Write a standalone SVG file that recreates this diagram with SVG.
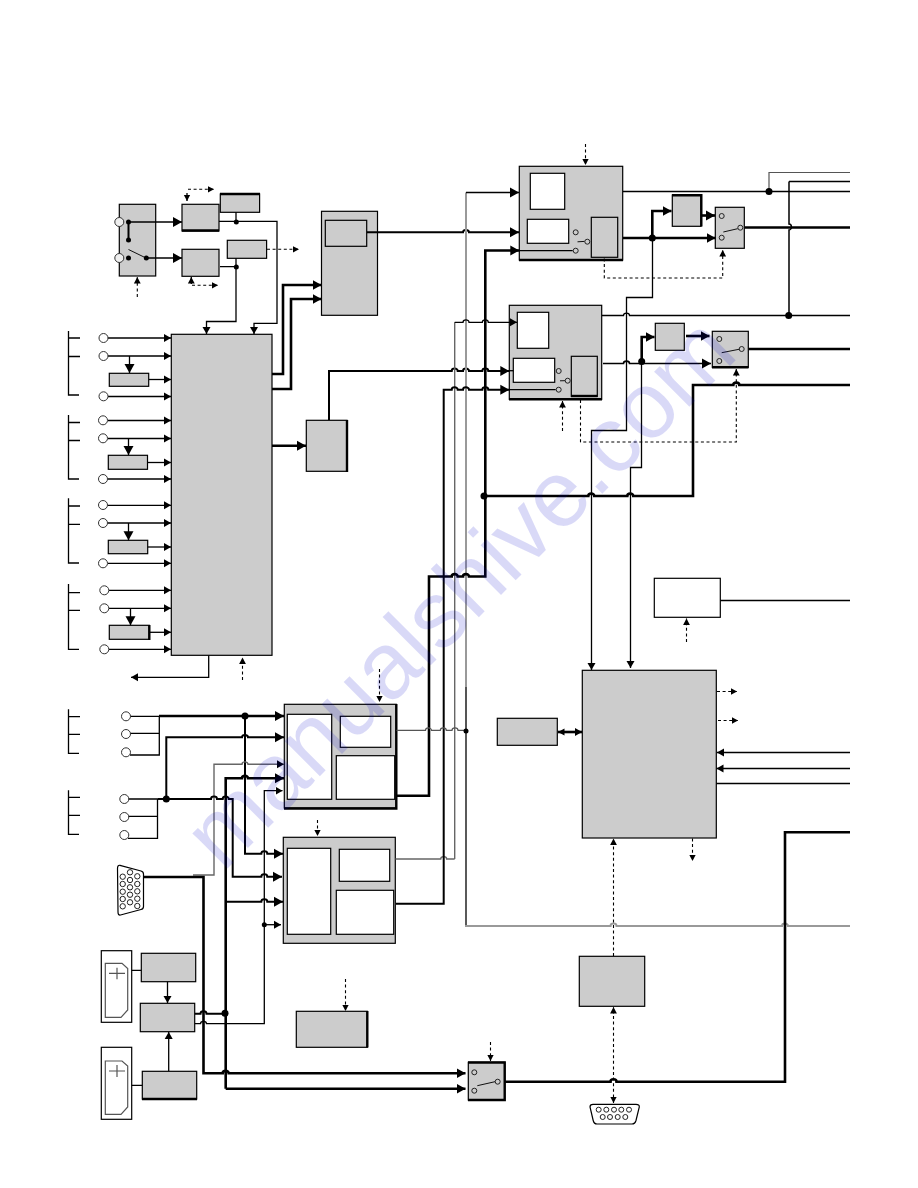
<svg xmlns="http://www.w3.org/2000/svg" width="918" height="1188" viewBox="0 0 918 1188">
<style>
.b{fill:#ccc;stroke:#000;stroke-width:1.2}
.w{fill:#fff;stroke:#000;stroke-width:1.2}
.e{fill:none;stroke:#000;stroke-width:2.4}
.i{fill:#fff;stroke:#333;stroke-width:1}
.ig{fill:#eee;stroke:#333;stroke-width:1}
.p{fill:none;stroke:#222;stroke-width:1}
.sw{fill:none;stroke:#111;stroke-width:1}
.t,.m,.k,.g,.gd,.d,.gl{fill:none;stroke-linejoin:miter}
.t{stroke:#000;stroke-width:1.3}
.m{stroke:#000;stroke-width:2}
.k{stroke:#000;stroke-width:2.6}
.g{stroke:#999;stroke-width:2}
.gd{stroke:#666;stroke-width:1.4}
.gl{stroke:#555;stroke-width:1.2}
.d{stroke:#000;stroke-width:1.1;stroke-dasharray:3 2.6}
.dot{fill:#000}
.wm{font-family:"Liberation Sans",Arial,sans-serif;font-size:94px;fill:#0000c8;fill-opacity:.15}
</style>
<defs>
<marker id="aL" markerUnits="userSpaceOnUse" markerWidth="11" markerHeight="11" viewBox="0 -5.5 11 11" refX="9" refY="0" orient="auto"><path d="M0-5L9 0L0 5Z"/></marker>
<marker id="aM" markerUnits="userSpaceOnUse" markerWidth="9" markerHeight="9" viewBox="0 -4.5 9 9" refX="7" refY="0" orient="auto"><path d="M0-4L7 0L0 4Z"/></marker>
<marker id="aS" markerUnits="userSpaceOnUse" markerWidth="8" markerHeight="8" viewBox="0 -4 8 8" refX="6.5" refY="0" orient="auto"><path d="M0-3.4L6.5 0L0 3.4Z"/></marker>
<marker id="aSs" markerUnits="userSpaceOnUse" markerWidth="8" markerHeight="8" viewBox="-8 -4 8 8" refX="-6.5" refY="0" orient="auto"><path d="M0-3.4L-6.5 0L0 3.4Z"/></marker>
</defs>
<rect width="918" height="1188" fill="#fff"/>

<g id="input-selector"><rect class="b" x="119.3" y="204.3" width="36.4" height="71.7"/></g>
<g id="decoder-a"><rect class="b" x="182" y="204.3" width="37" height="26.7"/><path class="e" d="M182 230.5H219"/></g>
<g id="decoder-b"><rect class="b" x="182" y="249.3" width="37" height="27"/></g>
<g id="memory-a"><rect class="b" x="220.3" y="194" width="39.3" height="18.3"/><path class="e" d="M220 194H260"/></g>
<g id="memory-b"><rect class="b" x="227.3" y="240.3" width="39.3" height="18"/></g>
<g id="main-processor"><rect class="b" x="171.3" y="334.3" width="100.7" height="321"/></g>
<g id="scaler"><rect class="b" x="321.5" y="211.3" width="56" height="104"/><rect class="b" x="325.3" y="220.3" width="41.4" height="26"/></g>
<g id="converter"><rect class="b" x="306.3" y="420.3" width="40.7" height="51"/><path class="e" d="M347 420V472"/></g>
<g id="input-bracket-1"><path class="t" d="M68.5 331V395H79M68.5 338H80M68.5 356.5H80"/></g>
<g id="input-bracket-2"><path class="t" d="M68.5 415V479H79M68.5 422.5H80M68.5 440.5H80"/></g>
<g id="input-bracket-3"><path class="t" d="M68.5 498.3V563H79M68.5 506H80M68.5 524.3H80"/></g>
<g id="input-bracket-4"><path class="t" d="M68.5 584V649.3H79M68.5 592.7H80M68.5 610.3H80"/></g>
<g id="input-bracket-5"><path class="t" d="M68.5 709.3V753.3H79M68.5 716.7H80M68.5 734.3H80"/></g>
<g id="input-bracket-6"><path class="t" d="M68.5 790.3V834.3H79M68.5 797.3H80M68.5 815.3H80"/></g>
<g id="sub-a"><rect class="b" x="109.3" y="373.3" width="39.4" height="13"/></g>
<g id="sub-b"><rect class="b" x="108.3" y="455.3" width="39.2" height="14"/></g>
<g id="sub-c"><rect class="b" x="108.3" y="540.3" width="39.4" height="13.4"/></g>
<g id="sub-d"><rect class="b" x="109.3" y="625.3" width="40" height="14"/><path class="e" d="M149.3 625V640"/></g>
<g id="decoder-top"><rect class="b" x="519.3" y="166.3" width="103.4" height="93.7"/><path class="e" d="M519 260H623"/><rect class="w" x="530.3" y="173.3" width="34.4" height="36"/><rect class="w" x="527.3" y="219.3" width="41.4" height="24"/><rect class="b" x="591.3" y="217.3" width="26.4" height="40"/></g>
<g id="decoder-mid"><rect class="b" x="509.3" y="305.3" width="92.4" height="94"/><path class="e" d="M509 399.3H602"/><rect class="w" x="517.3" y="312.3" width="31.4" height="36"/><rect class="w" x="513.3" y="358.3" width="41.4" height="24"/><rect class="b" x="571.3" y="356.3" width="26" height="40"/><path class="e" d="M571 396H597.5"/></g>
<g id="proc-top"><rect class="b" x="672.3" y="195" width="28.7" height="31.3"/><path class="e" d="M672 195.3H701.3V226.5"/></g>
<g id="proc-mid"><rect class="b" x="655.3" y="323.3" width="29" height="27"/></g>
<g id="switch-top"><rect class="b" x="715.3" y="207.3" width="29" height="41"/></g>
<g id="switch-mid"><rect class="b" x="712.3" y="331.3" width="36" height="36"/><path class="e" d="M712 367.3H748.5"/></g>
<g id="osd-box"><rect class="w" x="654.3" y="578.3" width="66" height="39"/></g>
<g id="controller"><rect class="b" x="582.3" y="670.3" width="134" height="167.7"/></g>
<g id="eeprom"><rect class="b" x="497.3" y="718.3" width="60" height="27"/></g>
<g id="rs232"><rect class="b" x="579.3" y="956.3" width="65.4" height="50"/></g>
<g id="adc-top"><rect class="b" x="284.3" y="704.3" width="112" height="103.7"/><path class="e" d="M396.3 704V808.5H284"/><rect class="w" x="287.3" y="714.3" width="44.4" height="85"/><rect class="w" x="340.3" y="716.3" width="50.4" height="31"/><rect class="w" x="336.3" y="755.7" width="58.4" height="43.6"/></g>
<g id="adc-bottom"><rect class="b" x="283.3" y="837.3" width="112" height="106"/><rect class="w" x="287.3" y="848.3" width="43.4" height="86"/><rect class="w" x="339.3" y="849.3" width="50.4" height="32"/><rect class="w" x="336.3" y="890.3" width="57.4" height="44"/></g>
<g id="vga-connector"><path class="w" d="M120 865.3L141 871Q143.5 871.7 143.5 874V906.5Q143.5 909 141 909.5L120.5 915Q118 915.5 118 912L117.5 868.5Q117.5 864.8 120 865.3Z"/>
<g class="p"><circle cx="122.7" cy="876.7" r="2.7"/><circle cx="122.7" cy="884" r="2.7"/><circle cx="122.7" cy="891.7" r="2.7"/><circle cx="122.7" cy="899" r="2.7"/><circle cx="122.7" cy="906.3" r="2.7"/><circle cx="130" cy="872.3" r="2.7"/><circle cx="130" cy="880" r="2.7"/><circle cx="130" cy="887.3" r="2.7"/><circle cx="130" cy="894.7" r="2.7"/><circle cx="130" cy="902.3" r="2.7"/><circle cx="137.3" cy="876.3" r="2.7"/><circle cx="137.3" cy="884" r="2.7"/><circle cx="137.3" cy="891.3" r="2.7"/><circle cx="137.3" cy="898.7" r="2.7"/><circle cx="137.3" cy="906" r="2.7"/></g></g>
<g id="card-slot-1"><rect class="w" x="101.3" y="950.7" width="30.4" height="71.6"/><path class="gl" d="M105.3 963.3H122L127.7 968.5V1010L121 1017.3H105.3Z"/><path class="gl" d="M109 973.3H125M117 967.7V979.3"/></g>
<g id="card-slot-2"><rect class="w" x="101.3" y="1047.3" width="30.4" height="72"/><path class="gl" d="M105.3 1061H122L127.7 1066V1107L121 1114.3H105.3Z"/><path class="gl" d="M109 1071H125M117 1065V1077"/></g>
<g id="card-reader-a"><rect class="b" x="141.3" y="953.3" width="54.4" height="28.4"/></g>
<g id="card-ctrl"><rect class="b" x="140.3" y="1003.3" width="54.4" height="28.4"/></g>
<g id="card-reader-b"><rect class="b" x="142.3" y="1071.3" width="54.4" height="27.7"/><path class="e" d="M142 1099H197"/></g>
<g id="power-box"><rect class="b" x="296.3" y="1011.3" width="71" height="36"/><path class="e" d="M367.3 1011V1047.5"/></g>
<g id="switch-bottom"><rect class="b" x="468.3" y="1062.3" width="36.4" height="37.7"/><path class="e" d="M468 1062.5H504.7V1100H468"/></g>
<g id="db9-connector"><path class="w" d="M593 1104.3H636Q639.5 1104.3 639.3 1107L636 1120.5Q635 1124 632 1124H597Q594 1124 593.2 1120.5L590 1107Q590 1104.3 593 1104.3Z"/>
<g class="p"><circle cx="598.7" cy="1109.7" r="2.5"/><circle cx="606.3" cy="1109.7" r="2.5"/><circle cx="614" cy="1109.7" r="2.5"/><circle cx="621.3" cy="1109.7" r="2.5"/><circle cx="629" cy="1109.7" r="2.5"/><circle cx="602.7" cy="1117" r="2.5"/><circle cx="610" cy="1117" r="2.5"/><circle cx="617.7" cy="1117" r="2.5"/><circle cx="625.3" cy="1117" r="2.5"/></g></g>

<g id="connectors">
<path class="t" d="M128.5 222H182" marker-end="url(#aL)"/>
<path class="t" d="M146 258H182" marker-end="url(#aL)"/>
<path class="m" d="M128.5 222V240"/>
<path class="sw" d="M128.5 249.5L146 258"/>
<path class="t" d="M219 221.3H277V323.3H254V334" marker-end="url(#aM)"/>
<path class="t" d="M220 266.7H236M236 258.3V321.5H206.5V334" marker-end="url(#aM)"/>
<path class="t" d="M236 212V222"/>
<path class="d" d="M188 189.3H214" marker-end="url(#aS)"/>
<path class="t" d="M187 193V201" marker-end="url(#aS)"/>
<path class="d" d="M192 285.3H218" marker-end="url(#aS)"/>
<path class="t" d="M191.3 284V277" marker-end="url(#aS)"/>
<path class="d" d="M267 249.3H299" marker-end="url(#aS)"/>
<path class="d" d="M137.3 297V277" marker-end="url(#aS)"/>
<path class="t" d="M108 338H171" marker-end="url(#aM)"/>
<path class="t" d="M108 356H171" marker-end="url(#aM)"/>
<path class="t" d="M129.5 356V373" marker-end="url(#aL)"/>
<path class="t" d="M149 379.5H171" marker-end="url(#aM)"/>
<path class="t" d="M108 396.5H171" marker-end="url(#aM)"/>
<path class="t" d="M108 420.5H171" marker-end="url(#aM)"/>
<path class="t" d="M108 438.5H171" marker-end="url(#aM)"/>
<path class="t" d="M128.5 438.5V455" marker-end="url(#aL)"/>
<path class="t" d="M147.5 462.5H171" marker-end="url(#aM)"/>
<path class="t" d="M108 479H171" marker-end="url(#aM)"/>
<path class="t" d="M108 505.3H171" marker-end="url(#aM)"/>
<path class="t" d="M108 523H171" marker-end="url(#aM)"/>
<path class="t" d="M128.5 523V540.3" marker-end="url(#aL)"/>
<path class="t" d="M147.7 547H171" marker-end="url(#aM)"/>
<path class="t" d="M108 563.3H171" marker-end="url(#aM)"/>
<path class="t" d="M109 590.3H171" marker-end="url(#aM)"/>
<path class="t" d="M109 608.3H171" marker-end="url(#aM)"/>
<path class="t" d="M130.5 608.3V625.3" marker-end="url(#aL)"/>
<path class="t" d="M149.5 632.3H171" marker-end="url(#aM)"/>
<path class="t" d="M109 649.3H171" marker-end="url(#aM)"/>
<path class="t" d="M208.7 655.5V677.3H131" marker-end="url(#aM)"/>
<path class="d" d="M242.5 680V657.5" marker-end="url(#aS)"/>
<path class="k" d="M272 374H283V285H321.5" marker-end="url(#aL)"/>
<path class="k" d="M272 389H291V299H321.5" marker-end="url(#aL)"/>
<path class="k" d="M272 445.7H306" marker-end="url(#aL)"/>
<path class="m" d="M367 232.3H463a3 2.4 0 0 1 6 0H519" marker-end="url(#aL)"/>
<path class="m" d="M329 420V371H451.7a3 2.4 0 0 1 6 0H463a3 2.4 0 0 1 6 0H482.3a3 2.4 0 0 1 6 0H509.3" marker-end="url(#aL)"/>
<path class="t" d="M509 370.7H513.5"/>
<path class="g" d="M466 687V192.5"/>
<path class="gl" d="M466 687V730" style="stroke-width:2"/>
<path class="t" d="M466 192.5H519" marker-end="url(#aL)"/>
<path class="t" d="M466 730V926"/>
<path class="g" d="M465 926H610.5a3 2.4 0 0 1 6 0H782a3 2.4 0 0 1 6 0H850"/>
<path class="gd" d="M454.7 859V322.3"/>
<path class="t" d="M454.7 322.3H463a3 2.4 0 0 1 6 0H482.3a3 2.4 0 0 1 6 0H517" marker-end="url(#aM)"/>
<path class="gd" d="M395.5 859H440.7a3 2.4 0 0 1 6 0H454.7"/>
<path class="k" d="M396 903.7H443.7V389.7H451.7a3 2.4 0 0 1 6 0H463a3 2.4 0 0 1 6 0H482.3a3 2.4 0 0 1 6 0H509.3" marker-end="url(#aL)" style="stroke-width:2"/>
<path class="t" d="M509 389.7H555.7"/>
<path class="k" d="M396.5 795.7H429V576.5H451.7a3 2.4 0 0 1 6 0H463a3 2.4 0 0 1 6 0H485.3V250.5H519.3" marker-end="url(#aL)"/>
<path class="t" d="M519 250.7H572.7"/>
<path class="gl" d="M396.5 730.3H425.5a3 2.4 0 0 1 6 0H440.3a3 2.4 0 0 1 6 0H452a3 2.4 0 0 1 6 0H466"/>
<path class="k" d="M484 496H588.3a3 2.4 0 0 1 6 0H627.3a3 2.4 0 0 1 6 0H693V385H733.3a3 2.4 0 0 1 6 0H850"/>
<path class="k" d="M623 238H715.5" marker-end="url(#aL)"/>
<path class="k" d="M652.3 238V211H671.5" marker-end="url(#aL)"/>
<path class="k" d="M701.5 215.5H715" marker-end="url(#aL)"/>
<path class="t" d="M652.5 238V297.5H626.5V430.5H591.5V670" marker-end="url(#aM)"/>
<path class="t" d="M641.5 361V467.5H630.5V668" marker-end="url(#aM)"/>
<path class="t" d="M623 191.5H850"/>
<path class="gl" d="M769 191.5V172.5H850"/>
<path class="t" d="M789 181.5V224a2.4 3 0 0 1 0 6V315" style="stroke-width:1.5"/>
<path class="t" d="M789 181.5H850"/>
<path class="k" d="M744.5 227.5H850"/>
<path class="t" d="M602 315.5H623.5a3 2.4 0 0 1 6 0H850"/>
<path class="m" d="M603 363.5H623.5a3 2.4 0 0 1 6 0H711" marker-end="url(#aL)" style="stroke-width:1.6"/>
<path class="k" d="M641.7 362V337H654.5" marker-end="url(#aL)"/>
<path class="k" d="M686 336H709.5" marker-end="url(#aL)"/>
<path class="k" d="M748.3 349H850"/>
<path class="d" d="M604.3 258.5V278H722.7V250" marker-end="url(#aS)"/>
<path class="d" d="M585.5 144V165" marker-end="url(#aS)"/>
<path class="d" d="M562.5 431V401" marker-end="url(#aS)"/>
<path class="d" d="M580.5 400V442H736.3V369" marker-end="url(#aS)"/>
<path class="sw" d="M577.5 241.8L584.5 241.4"/>
<path class="sw" d="M723.3 232L737.7 228.7"/>
<path class="sw" d="M560 380.8L565 380.7"/>
<path class="sw" d="M721.7 352.7L739 349.3"/>
<path class="t" d="M720.3 600.5H850"/>
<path class="d" d="M686.5 642V618.5" marker-end="url(#aS)"/>
<path class="k" d="M558 732H582" marker-end="url(#aM)" marker-start="url(#aSs)"/>
<path class="d" d="M717 691.5H737" marker-end="url(#aS)"/>
<path class="d" d="M718 720.5H738" marker-end="url(#aS)"/>
<path class="t" d="M850 752.5H717" marker-end="url(#aM)"/>
<path class="t" d="M850 768.5H716.5" marker-end="url(#aM)"/>
<path class="t" d="M716.3 783.5H850"/>
<path class="d" d="M613.5 956V838.5" marker-end="url(#aS)"/>
<path class="d" d="M692.5 838.5V861" marker-end="url(#aS)"/>
<path class="d" d="M613.5 1103V1007" marker-end="url(#aS)" marker-start="url(#aSs)"/>
<path class="k" d="M505 1081.7H610.5a3 2.4 0 0 1 6 0H785V832.3H850"/>
<path class="d" d="M490.5 1042V1061" marker-end="url(#aS)"/>
<path class="t" d="M130 716.3H159.3V755H130M130 733.3H159.3"/>
<path class="t" d="M128 799H157.5V838.3H128M128 816.3H157.5"/>
<path class="k" d="M159 716H284" marker-end="url(#aL)"/>
<path class="m" d="M245 716V853.7H261.3a3 2.4 0 0 1 6 0H283" marker-end="url(#aL)"/>
<path class="m" d="M166.3 799V737.3H242a3 2.4 0 0 1 6 0H284" marker-end="url(#aL)"/>
<path class="gd" d="M193 875H214V764.3H242a3 2.4 0 0 1 6 0H284" marker-end="url(#aM)"/>
<path class="k" d="M158 799H211a3 2.4 0 0 1 6 0H222.7a3 2.4 0 0 1 6 0H232.7V876.7H261.3a3 2.4 0 0 1 6 0H282" marker-end="url(#aL)" style="stroke-width:2"/>
<path class="k" d="M225.7 1088.7V778.3H242a3 2.4 0 0 1 6 0H284" marker-end="url(#aL)"/>
<path class="k" d="M225.7 1088.7H465.5" marker-end="url(#aL)"/>
<path class="m" d="M225.7 901.7H261.3a3 2.4 0 0 1 6 0H283" marker-end="url(#aL)"/>
<path class="k" d="M143 877H203.5V1073.3H222.7a3 2.4 0 0 1 6 0H465.5" marker-end="url(#aL)"/>
<path class="t" d="M195 1023.7H200.5a3 2.4 0 0 1 6 0H264.3V790.7H282.5" marker-end="url(#aM)"/>
<path class="t" d="M264.3 924.7H281" marker-end="url(#aM)"/>
<path class="m" d="M195 1013.7H200.5a3 2.4 0 0 1 6 0H225"/>
<path class="d" d="M379.5 669V702" marker-end="url(#aS)"/>
<path class="d" d="M317.5 820V836" marker-end="url(#aS)"/>
<path class="d" d="M345.5 979V1011" marker-end="url(#aS)"/>
<path class="t" d="M131.7 970.3H141.3M131.7 1085.3H142.3"/>
<path class="t" d="M167.5 981.7V1003" marker-end="url(#aM)"/>
<path class="t" d="M168.7 1071V1032" marker-end="url(#aM)"/>
<g class="dot">
<circle cx="128.5" cy="222" r="2.5"/><circle cx="128.5" cy="240" r="2.5"/><circle cx="128.5" cy="258" r="2.5"/><circle cx="146.3" cy="258" r="2.5"/>
<circle cx="236.3" cy="222" r="2.5"/><circle cx="236.3" cy="267" r="2.5"/>
<circle cx="652.3" cy="238" r="3.5"/><circle cx="641.7" cy="361.5" r="3.5"/><circle cx="769" cy="191.5" r="3.5"/><circle cx="788.7" cy="315.5" r="3.5"/><circle cx="484" cy="496" r="3.5"/>
<circle cx="245" cy="716" r="3.5"/><circle cx="166.3" cy="799" r="3.5"/><circle cx="225" cy="1013.3" r="3.5"/><circle cx="466" cy="731" r="2.5"/><circle cx="264.3" cy="924.7" r="2.5"/>
</g>
<g class="i">
<circle cx="103.5" cy="338" r="4.5"/><circle cx="103.5" cy="356" r="4.5"/><circle cx="103.5" cy="396.3" r="4.5"/>
<circle cx="103" cy="420.3" r="4.5"/><circle cx="103" cy="438.3" r="4.5"/><circle cx="103" cy="479" r="4.5"/>
<circle cx="103" cy="505" r="4.5"/><circle cx="103" cy="523" r="4.5"/><circle cx="103" cy="563.3" r="4.5"/>
<circle cx="104.3" cy="590.3" r="4.5"/><circle cx="104.3" cy="608.3" r="4.5"/><circle cx="104.3" cy="649.3" r="4.5"/>
<circle cx="126" cy="716.3" r="4.5"/><circle cx="126" cy="734" r="4.5"/><circle cx="126" cy="752.3" r="4.5"/>
<circle cx="124.3" cy="799" r="4.5"/><circle cx="124.3" cy="817" r="4.5"/><circle cx="124.3" cy="835" r="4.5"/>
</g>
<g class="ig"><circle cx="119.3" cy="222" r="4.5"/><circle cx="119.3" cy="258" r="4.5"/></g>
<g class="p">
<circle cx="575.7" cy="232.3" r="2.5"/><circle cx="587.3" cy="241.7" r="2.5"/><circle cx="575.7" cy="250.7" r="2.5"/>
<circle cx="558.7" cy="371" r="2.5"/><circle cx="567.7" cy="380.7" r="2.5"/><circle cx="558.7" cy="389.7" r="2.5"/>
<circle cx="721.7" cy="216" r="2.5"/><circle cx="721.7" cy="237.7" r="2.5"/><circle cx="740.3" cy="227.7" r="2.5"/>
<circle cx="719.3" cy="339" r="2.5"/><circle cx="719.3" cy="361" r="2.5"/><circle cx="741.7" cy="349" r="2.5"/>
<circle cx="474.3" cy="1072.3" r="2.5"/><circle cx="474.3" cy="1090.7" r="2.5"/><circle cx="497.7" cy="1081.7" r="2.5"/>
</g>
<path class="sw" d="M477.3 1085.7L495 1081.7"/>
</g>
<text class="wm" transform="translate(223 873) rotate(-45)">manualshive.com</text>
</svg>
